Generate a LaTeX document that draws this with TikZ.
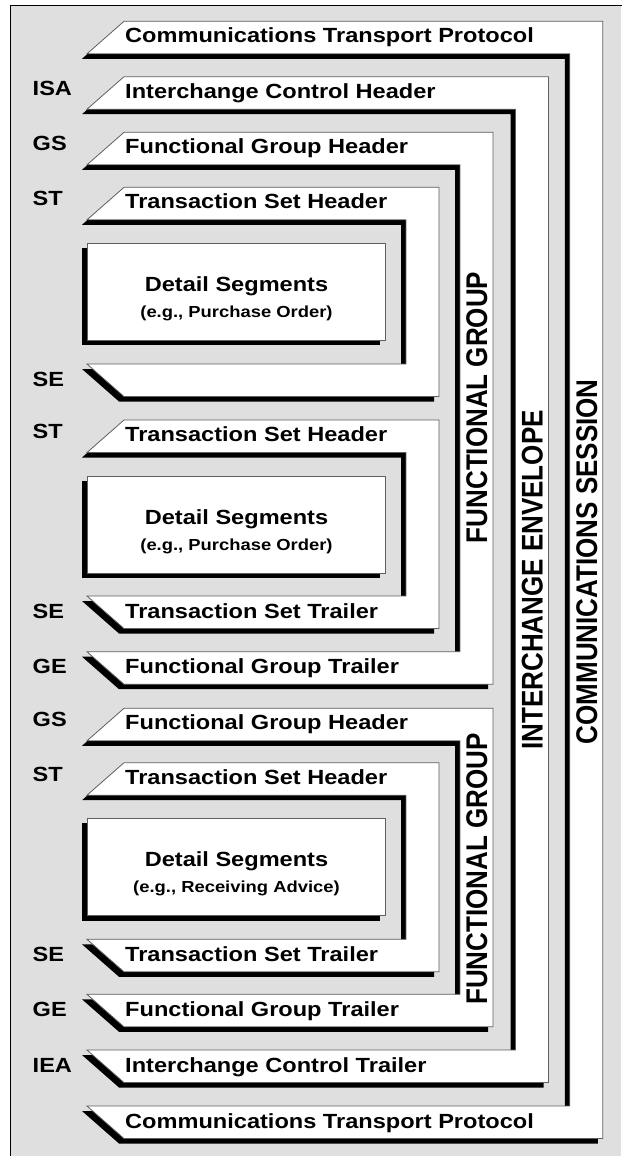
\documentclass[tikz,border=0pt]{standalone}
\usepackage{fontspec}
\newfontfamily\hfont{Liberation Sans}[FakeStretch=1.15]
\newfontfamily\vfont{Liberation Sans}
\definecolor{bggray}{RGB}{223,223,223}
\definecolor{edgegray}{RGB}{95,95,95}

% One nested envelope: header band with "/" end, right arm, trailer band with "\" end.
% #1 = top, #2 = bottom, #3 = right edge (pixels, y downwards)
\newcommand\bracketpath[3]{(87+37,#1) -- (#3,#1) -- (#3,#2) -- (87+37,#2) -- (87,#2-32.5)
  -- (#3-33,#2-32.5) -- (#3-33,#1+32.5) -- (87,#1+32.5) -- cycle}
\newcommand\bracketshape[3]{%
  \fill[dropshade, shift={(-5,5)}] \bracketpath{#1}{#2}{#3};
  \draw[band] \bracketpath{#1}{#2}{#3};
}
% Detail segment box: #1 = top, #2 = bottom
\newcommand\detailbox[2]{%
  \fill[dropshade] (82,#1+5) rectangle (380,#2+5);
  \draw[band] (87,#1) rectangle (385,#2);
}

\tikzset{
  band/.style={fill=white, draw=edgegray, line width=0.8pt, line join=miter},
  dropshade/.style={fill=black},
  segtext/.style={anchor=base west, inner sep=0pt, font=\hfont\bfseries\fontsize{20.5}{24}\selectfont},
  tagtext/.style={anchor=base west, inner sep=0pt, font=\hfont\bfseries\fontsize{20.5}{24}\selectfont},
  boxtitle/.style={anchor=base, inner sep=0pt, font=\hfont\bfseries\fontsize{20.5}{24}\selectfont},
  boxsub/.style={anchor=base, inner sep=0pt, font=\hfont\bfseries\fontsize{16}{19}\selectfont},
  sidetext/.style={rotate=90, anchor=base, inner sep=0pt, font=\vfont\bfseries\fontsize{26}{30}\selectfont},
}

\begin{document}
\begin{tikzpicture}[x=1pt, y=-1pt]
  \useasboundingbox (0,0) rectangle (621,1156);
  \fill[white] (0,0) rectangle (621,1156);
  \fill[bggray] (10.8,5.3) rectangle (621,1156);
  \draw[line width=1.3pt] (10.8,1160) |- (625,5.3);

  % envelopes, outermost first
  \bracketshape{21.3}{1138.5}{602.8}   % communications session
  \bracketshape{76.7}{1082.5}{548.5}   % interchange
  \bracketshape{132.3}{684.2}{493}     % functional group 1
  \bracketshape{187.3}{396.5}{439}     % transaction set 1
  \detailbox{243.3}{340}
  \bracketshape{420}{628.5}{439}       % transaction set 2
  \detailbox{476}{573}
  \bracketshape{708.3}{1026.8}{493}    % functional group 2
  \bracketshape{762.7}{971.8}{439}     % transaction set 3
  \detailbox{818.3}{915.5}

  % band captions
  \node[segtext] (ctph) at (125,42.8)   {Communications Transport Protocol};
  \node[segtext] (isah) at (125,98.2)   {Interchange Control Header};
  \node[segtext] (gsh1) at (125,153.8)  {Functional Group Header};
  \node[segtext] (sth1) at (125,208.8)  {Transaction Set Header};
  \node[segtext] (sth2) at (125,441.5)  {Transaction Set Header};
  \node[segtext] (set2) at (125,618)    {Transaction Set Trailer};
  \node[segtext] (get1) at (125,673.7)  {Functional Group Trailer};
  \node[segtext] (gsh2) at (125,729.8)  {Functional Group Header};
  \node[segtext] (sth3) at (125,784.2)  {Transaction Set Header};
  \node[segtext] (set3) at (125,961.3)  {Transaction Set Trailer};
  \node[segtext] (get2) at (125,1016.3) {Functional Group Trailer};
  \node[segtext] (ieat) at (125,1072)   {Interchange Control Trailer};
  \node[segtext] (ctpt) at (125,1128)   {Communications Transport Protocol};

  % segment identifiers
  \node[tagtext] (isa)  at (32.5,95)     {ISA};
  \node[tagtext] (gs1)  at (32.5,150.6)  {GS};
  \node[tagtext] (st1)  at (32.5,205.6)  {ST};
  \node[tagtext] (se1)  at (32.5,386.3)  {SE};
  \node[tagtext] (st2)  at (32.5,438.2)  {ST};
  \node[tagtext] (se2)  at (32.5,618)    {SE};
  \node[tagtext] (ge1)  at (32.5,673.7)  {GE};
  \node[tagtext] (gs2)  at (32.5,726.6)  {GS};
  \node[tagtext] (st3)  at (32.5,781)    {ST};
  \node[tagtext] (se3)  at (32.5,961.3)  {SE};
  \node[tagtext] (ge2)  at (32.5,1016.3) {GE};
  \node[tagtext] (iea)  at (32.5,1072)   {IEA};

  % detail segment captions
  \node[boxtitle] (ds1) at (236.5,291.8) {Detail Segments};
  \node[boxsub]   (eg1) at (236.5,317.3) {(e.g., Purchase Order)};
  \node[boxtitle] (ds2) at (236.5,524.5) {Detail Segments};
  \node[boxsub]   (eg2) at (236.5,550)   {(e.g., Purchase Order)};
  \node[boxtitle] (ds3) at (236.5,866.8) {Detail Segments};
  \node[boxsub]   (eg3) at (236.5,892.3) {(e.g., Receiving Advice)};

  % vertical envelope names
  \node[sidetext] (fg1) at (487.2,407.4) {\scalebox{1}[1.15]{FUNCTIONAL GROUP}};
  \node[sidetext] (fg2) at (487.2,868.9) {\scalebox{1}[1.15]{FUNCTIONAL GROUP}};
  \node[sidetext] (ie)  at (542.7,580)   {\scalebox{1}[1.15]{INTERCHANGE ENVELOPE}};
  \node[sidetext] (cs)  at (597,561.7)   {\scalebox{1}[1.15]{COMMUNICATIONS SESSION}};
\end{tikzpicture}
\end{document}
